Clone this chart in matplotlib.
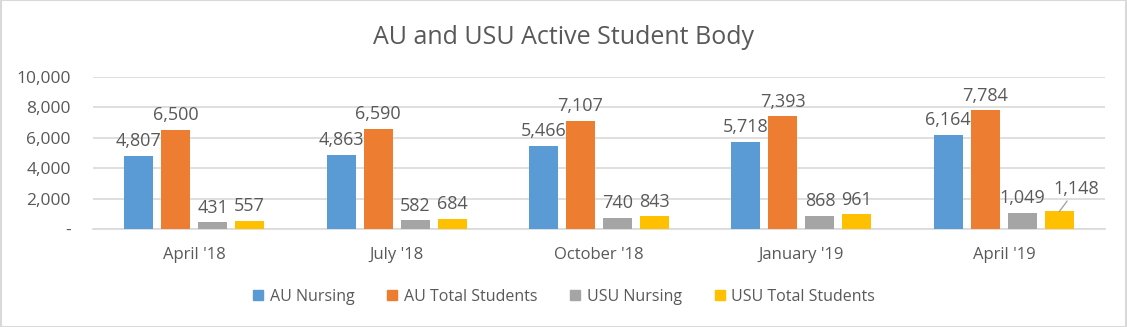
import matplotlib
matplotlib.use("Agg")
import matplotlib.pyplot as plt
from matplotlib.lines import Line2D
from matplotlib.patches import Rectangle
import numpy as np

categories = ["April '18", "July '18", "October '18", "January '19", "April '19"]
series_names = ["AU Nursing", "AU Total Students", "USU Nursing", "USU Total Students"]
au_nursing = [4807, 4863, 5466, 5718, 6164]
au_total = [6500, 6590, 7107, 7393, 7784]
usu_nursing = [431, 582, 740, 868, 1049]
usu_total = [557, 684, 843, 961, 1148]
colors = ["#5B9BD5", "#ED7D31", "#A5A5A5", "#FFC000"]
yticks = [0, 2000, 4000, 6000, 8000, 10000]

plt.rcParams['font.family'] = ['Open Sans', 'DejaVu Sans']
txt = "#595959"

fig = plt.figure(figsize=(11.27, 3.27), dpi=100)
ax = fig.add_axes([0.0825, 0.2997, 0.898, 0.4663])

x = np.arange(len(categories))
step = 0.1828
width = 0.1433
all_series = [au_nursing, au_total, usu_nursing, usu_total]
for k, (vals, c) in enumerate(zip(all_series, colors)):
    xs = x + (k - 1.5) * step
    ax.bar(xs, vals, width=width, color=c, zorder=3)
    for i, (xi, v) in enumerate(zip(xs, vals)):
        lab = f"{v:,}"
        if k == 3 and i == len(vals) - 1:
            ax.annotate(lab, xy=(xi, v), xytext=(12, 16), textcoords="offset points",
                        ha="center", va="center", fontsize=13, color=txt,
                        arrowprops=dict(arrowstyle="-", color="#A6A6A6", lw=1,
                                        shrinkA=0, shrinkB=0))
        else:
            ax.annotate(lab, xy=(xi, v), xytext=(0, 4), textcoords="offset points",
                        ha="center", va="bottom", fontsize=13, color=txt)

ax.set_xlim(-0.5, len(categories) - 0.5)
ax.set_ylim(0, 10000)
ax.set_yticks(yticks)
ax.set_yticklabels(["-" if t == 0 else f"{t:,}" for t in yticks])
ax.set_xticks(x)
ax.set_xticklabels(categories)
ax.tick_params(axis="y", length=0, pad=16, labelsize=12.5, labelcolor=txt)
ax.tick_params(axis="x", length=0, pad=13, labelsize=12, labelcolor=txt)
ax.grid(axis="y", color="#D9D9D9", lw=1.2, zorder=0)
for s in ["top", "right", "left"]:
    ax.spines[s].set_visible(False)
ax.spines["bottom"].set_color("#D9D9D9")
ax.spines["bottom"].set_linewidth(1.2)

fig.text(0.5, 0.884, "AU and USU Active Student Body", ha="center", va="center",
         fontsize=18, color=txt)

handles = [Line2D([], [], marker="s", linestyle="none", markersize=7,
                  markerfacecolor=c, markeredgecolor=c) for c in colors]
fig.legend(handles, series_names, loc="center", bbox_to_anchor=(0.5, 0.093), ncol=4,
           frameon=False, fontsize=11.5, labelcolor=txt, handletextpad=0.3,
           columnspacing=2.0, handlelength=0.8)

fig.add_artist(Rectangle((0.0008, 0.0015), 0.9984, 0.997, transform=fig.transFigure,
                         fill=False, edgecolor="#D9D9D9", lw=1.5))

fig.savefig("out.png", dpi=100)
